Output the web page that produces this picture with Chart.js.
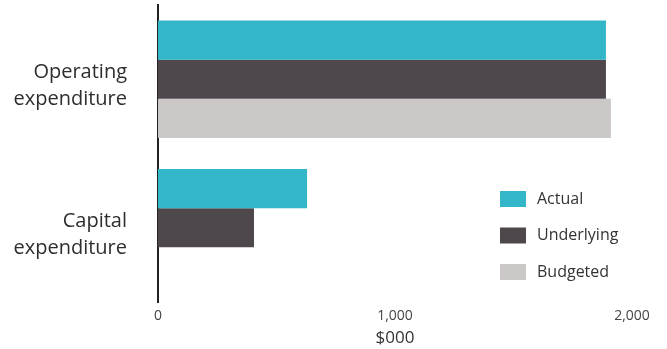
<!DOCTYPE html>
<html>
<head>
<meta charset="utf-8">
<script src="https://cdn.jsdelivr.net/npm/chart.js@4/dist/chart.umd.min.js"></script>
<style>
  html, body { margin: 0; padding: 0; background: #fff; }
  #wrap { width: 667px; height: 349px; }
</style>
</head>
<body>
<div id="wrap"><canvas id="spendChart" width="667" height="349"></canvas></div>
<script>
// Expenditure by type, $000
const categories = [['Operating', 'expenditure'], ['Capital', 'expenditure']];
const actual = [1890, 629];
const underlying = [1890, 405];
const budgeted = [1911, 0];
const xTicks = [0, 1000, 2000];

const FONT = "'Open Sans', sans-serif";

// Legend drawn inside the plot area, lower right
const insideLegend = {
    id: 'insideLegend',
    afterDatasetsDraw(chart) {
        const ctx = chart.ctx;
        const x0 = 500, y0 = 191, rowGap = 36.5;
        ctx.save();
        ctx.font = '500 16px ' + FONT;
        ctx.textBaseline = 'middle';
        chart.data.datasets.forEach((ds, i) => {
            const y = y0 + i * rowGap;
            ctx.fillStyle = ds.backgroundColor;
            ctx.fillRect(x0, y, 26, 16);
            ctx.fillStyle = '#333';
            ctx.fillText(ds.label, x0 + 37, y + 8);
        });
        ctx.restore();
    }
};

new Chart(document.getElementById('spendChart'), {
    type: 'bar',
    data: {
        labels: categories,
        datasets: [
            { label: 'Actual', data: actual, backgroundColor: '#33b6c8' },
            { label: 'Underlying', data: underlying, backgroundColor: '#4e484c' },
            { label: 'Budgeted', data: budgeted, backgroundColor: '#cbc7c7' }
        ]
    },
    options: {
        indexAxis: 'y',
        responsive: false,
        animation: false,
        layout: { padding: { top: 5, right: 35, left: 0, bottom: 0 } },
        datasets: {
            bar: { barPercentage: 1, categoryPercentage: 0.79, borderWidth: 0 }
        },
        plugins: {
            legend: { display: false },
            tooltip: { enabled: false }
        },
        scales: {
            x: {
                min: 0,
                max: 2000,
                afterBuildTicks: (axis) => { axis.ticks = xTicks.map(v => ({ value: v })); },
                afterFit: (axis) => { axis.height = 47; },
                grid: { display: false, drawTicks: false },
                border: { display: false },
                ticks: {
                    color: '#444',
                    font: { family: FONT, size: 14 },
                    padding: 6,
                    callback: (v) => v.toLocaleString('en-US')
                },
                title: {
                    display: true,
                    text: '$000',
                    color: '#333',
                    font: { family: FONT, size: 17, weight: 500 },
                    padding: { top: 3, bottom: 1 }
                }
            },
            y: {
                grid: { display: false, drawTicks: false },
                border: { display: true, color: '#222', width: 2 },
                afterFit: (axis) => {
                    axis.width = 158;
                    axis.paddingTop = 0;
                    axis.paddingBottom = 0;
                },
                ticks: {
                    color: '#2e2e2e',
                    font: { family: FONT, size: 20, weight: 500, lineHeight: 1.35 },
                    padding: 31,
                    labelOffset: 7
                }
            }
        }
    },
    plugins: [insideLegend]
});
</script>
</body>
</html>
